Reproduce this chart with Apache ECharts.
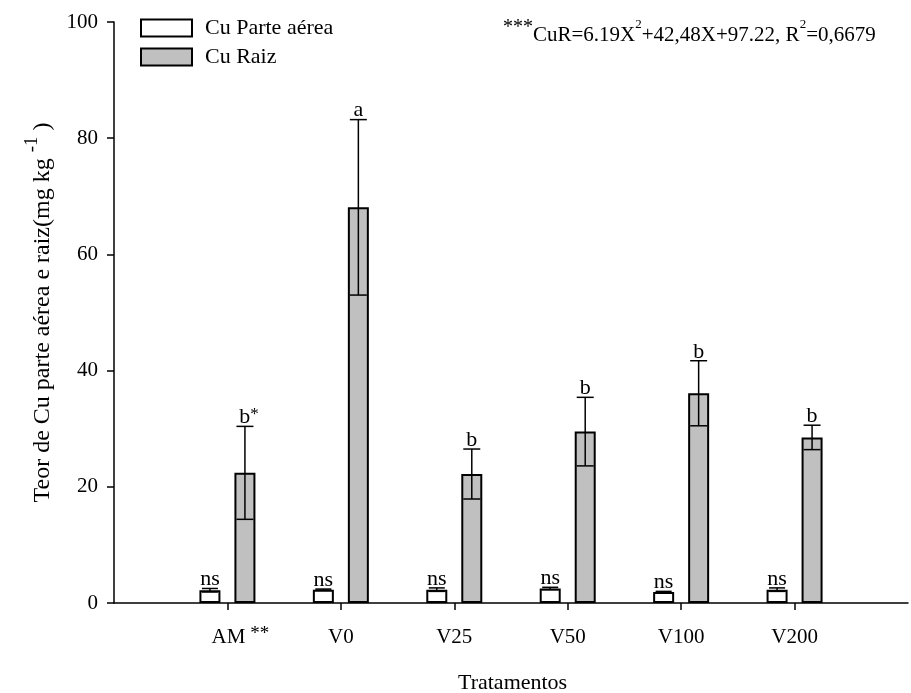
<!DOCTYPE html>
<html>
<head>
<meta charset="utf-8">
<script src="https://cdn.jsdelivr.net/npm/echarts@6/dist/echarts.min.js"></script>
<style>html,body{margin:0;padding:0;background:#fff}#c{width:911px;height:693px}</style>
</head>
<body>
<div id="c"></div>
<script>
var categories = ['AM', 'V0', 'V25', 'V50', 'V100', 'V200'];
var parteAerea = [2.2, 2.3, 2.3, 2.5, 1.9, 2.3];
var parteAereaErr = [0.3, 0.1, 0.3, 0.2, 0.1, 0.3];
var raiz = [22.4, 68.1, 22.2, 29.5, 36.1, 28.5];
var raizErr = [8.0, 15.1, 4.3, 5.9, 5.6, 2.1];
var labelsAerea = ['ns', 'ns', 'ns', 'ns', 'ns', 'ns'];
var labelsRaiz = ['b*', 'a', 'b', 'b', 'b', 'b'];
var yTicks = [0, 20, 40, 60, 80, 100];

var FONT = 'Liberation Serif';
var cats = [''].concat(categories).concat(['']);
function pad(arr) { return ['-'].concat(arr).concat(['-']); }

var BAR_W = 21, GAP = 14;
var OFF = (BAR_W + GAP) / 2;

function errData(vals, errs, labels) {
  return vals.map(function (v, i) { return [i + 1, v, errs[i], labels[i]]; });
}

function makeRender(offset, capW, vals, errs, labels) {
  return function (params, api) {
    var idx = params.dataIndex;
    var v = vals[idx], e = errs[idx], lab = labels[idx];
    var cx = api.coord([idx + 1, v])[0] + offset;
    var yTop = api.coord([idx + 1, v + e])[1];
    var yBot = api.coord([idx + 1, v - e])[1];
    var st = { stroke: '#000', lineWidth: 1.5 };
    var children = [
      { type: 'line', shape: { x1: cx, y1: yTop, x2: cx, y2: yBot }, style: st },
      { type: 'line', shape: { x1: cx - capW / 2, y1: yTop, x2: cx + capW / 2, y2: yTop }, style: st },
      { type: 'line', shape: { x1: cx - capW / 2, y1: yBot, x2: cx + capW / 2, y2: yBot }, style: st }
    ];
    var main = lab.replace(/\*/g, '');
    var stars = lab.slice(main.length);
    var txt = stars ? '{n|' + main + '}{s|' + stars + '}' : '{n|' + main + '}';
    children.push({
      type: 'text',
      x: cx + (stars ? 4 : 0), y: yTop + 2,
      style: {
        text: txt, align: 'center', verticalAlign: 'bottom',
        fill: '#000',
        rich: {
          n: { fontFamily: FONT, fontSize: 22, lineHeight: 22, fill: '#000' },
          s: { fontFamily: FONT, fontSize: 17, verticalAlign: 'top', fill: '#000', lineHeight: 22 }
        }
      }
    });
    return { type: 'group', children: children };
  };
}

var chart = echarts.init(document.getElementById('c'), null, { renderer: 'canvas' });
chart.setOption({
  animation: false,
  backgroundColor: '#fff',
  grid: { left: 114, top: 22, bottom: 90, right: -11, containLabel: false },
  legend: {
    orient: 'vertical', left: 135, top: 12,
    itemWidth: 51, itemHeight: 17, itemGap: 7, icon: 'rect',
    textStyle: { fontFamily: FONT, fontSize: 22, lineHeight: 22, color: '#000', padding: [0, 0, 0, 8] },
    data: ['Cu Parte aérea', 'Cu Raiz']
  },
  xAxis: {
    type: 'category', data: cats, boundaryGap: false,
    axisLine: { lineStyle: { color: '#000', width: 1.5 } },
    axisTick: { length: 7, lineStyle: { color: '#000', width: 1.5 },
      interval: function (i) { return i > 0 && i < cats.length - 1; } },
    axisLabel: {
      margin: 22, color: '#000',
      interval: 0,
      formatter: function (v) {
        if (v === 'AM') return '{p|}{n|AM}{s|**}';
        return '{n|' + v + '}';
      },
      rich: {
        n: { fontFamily: FONT, fontSize: 21, lineHeight: 24, color: '#000' },
        s: { fontFamily: FONT, fontSize: 19, verticalAlign: 'top', lineHeight: 24, color: '#000', padding: [0, 0, 0, 5] },
        p: { width: 26 }
      }
    },
    splitLine: { show: false }
  },
  yAxis: {
    type: 'value', min: 0, max: 100, interval: 20,
    axisLine: { show: true, lineStyle: { color: '#000', width: 1.5 } },
    axisTick: { show: true, length: 7, lineStyle: { color: '#000', width: 1.5 } },
    axisLabel: { margin: 16, fontFamily: FONT, fontSize: 21, color: '#000',
      formatter: function (v) { return yTicks.indexOf(v) >= 0 ? String(v) : ''; } },
    splitLine: { show: false },
    name: '{n|Teor de Cu parte aérea e raiz(mg kg }{s|-1}{n| )}',
    nameLocation: 'middle', nameRotate: 90, nameGap: 59,
    nameTextStyle: {
      rich: {
        n: { fontFamily: FONT, fontSize: 24, lineHeight: 32, color: '#000', verticalAlign: 'bottom' },
        s: { fontFamily: FONT, fontSize: 19, verticalAlign: 'top', lineHeight: 32, color: '#000' }
      }
    }
  },
  graphic: [
    {
      type: 'text', left: 458, top: 672,
      style: { text: 'Tratamentos', fontFamily: FONT, fontSize: 22, fill: '#000' }
    },
    {
      type: 'text', left: 503, top: 18,
      style: {
        text: '{s|***}{n|CuR=6.19X}{t|2}{n|+42,48X+97.22, R}{t|2}{n|=0,6679}',
        rich: {
          n: { fontFamily: FONT, fontSize: 21, lineHeight: 28, fill: '#000', verticalAlign: 'bottom' },
          s: { fontFamily: FONT, fontSize: 20, lineHeight: 28, fill: '#000', verticalAlign: 'top' },
          t: { fontFamily: FONT, fontSize: 13, lineHeight: 28, fill: '#000', verticalAlign: 'top' }
        }
      }
    }
  ],
  series: [
    {
      name: 'Cu Parte aérea', type: 'bar', data: pad(parteAerea),
      barWidth: BAR_W, barGap: (GAP / BAR_W * 100) + '%',
      itemStyle: { color: '#ffffff', borderColor: '#000', borderWidth: 2 }
    },
    {
      name: 'Cu Raiz', type: 'bar', data: pad(raiz),
      barWidth: BAR_W, barGap: (GAP / BAR_W * 100) + '%',
      itemStyle: { color: '#c0c0c0', borderColor: '#000', borderWidth: 2 }
    },
    {
      type: 'custom', name: 'errA', z: 5, silent: true,
      data: errData(parteAerea, parteAereaErr, labelsAerea),
      encode: { x: 0, y: 1 },
      renderItem: makeRender(-OFF, 16, parteAerea, parteAereaErr, labelsAerea)
    },
    {
      type: 'custom', name: 'errR', z: 5, silent: true,
      data: errData(raiz, raizErr, labelsRaiz),
      encode: { x: 0, y: 1 },
      renderItem: makeRender(OFF, 17, raiz, raizErr, labelsRaiz)
    }
  ]
});
</script>
</body>
</html>
